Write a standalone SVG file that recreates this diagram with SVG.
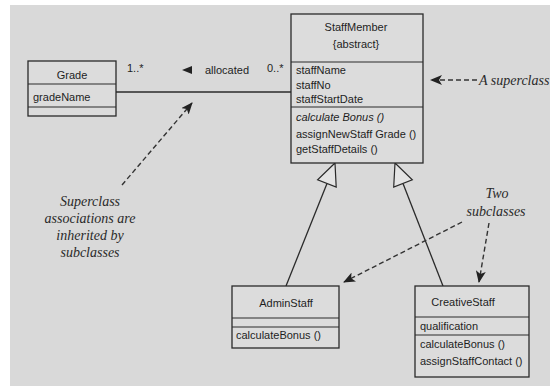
<svg xmlns="http://www.w3.org/2000/svg" width="550" height="386" viewBox="0 0 550 386">
<defs>
<style>
.box{fill:#dcdcdc;stroke:#2a2a2a;stroke-width:1.3}
.div{stroke:#2a2a2a;stroke-width:1.2}
.t{font-family:"Liberation Sans",Arial,sans-serif;font-size:11px;fill:#1e1e1e}
.c{text-anchor:middle}
.note{font-family:"Liberation Serif","Times New Roman",serif;font-style:italic;font-size:14px;fill:#2a2a2a;text-anchor:middle}
.ln{stroke:#2a2a2a;stroke-width:1.3;fill:none}
.dash{stroke:#333;stroke-width:1.4;fill:none;stroke-dasharray:5,3}
.tri{fill:#e4e4e4;stroke:#2a2a2a;stroke-width:1.2}
</style>
<marker id="ah" viewBox="0 0 12 10" refX="11" refY="5" markerWidth="12" markerHeight="10" markerUnits="userSpaceOnUse" orient="auto">
<path d="M0,0 L12,5 L0,10 L3,5 Z" fill="#222"/>
</marker>
</defs>
<rect x="0" y="0" width="550" height="386" fill="#ffffff"/>
<rect x="10" y="5" width="540" height="381" fill="#d9d9d9"/>

<g id="connectors">
<line class="ln" x1="116" y1="92" x2="291" y2="92"/>
<text class="t" x="127" y="72">1..*</text>
<path d="M182,70 L192,66 L192,74 Z" fill="#222"/>
<text class="t" x="205" y="74">allocated</text>
<text class="t" x="267" y="72">0..*</text>
<line class="ln" x1="286" y1="286" x2="327" y2="183.4"/>
<polygon class="tri" points="335,163 317.6,179.7 336.2,187.1"/>
<line class="ln" x1="443" y1="286" x2="403" y2="183.5"/>
<polygon class="tri" points="395,163 412.3,179.9 393.7,187.1"/>
<line class="dash" x1="477" y1="80" x2="431" y2="80" marker-end="url(#ah)"/>
<line class="dash" x1="122" y1="185" x2="192" y2="103" marker-end="url(#ah)"/>
<line class="dash" x1="462" y1="222" x2="344" y2="282" marker-end="url(#ah)"/>
<line class="dash" x1="489" y1="223" x2="479" y2="282" marker-end="url(#ah)"/>
</g>

<g id="Grade">
<rect class="box" x="28" y="61" width="88" height="55"/>
<line class="div" x1="28" y1="84" x2="116" y2="84"/>
<line class="div" x1="28" y1="107" x2="116" y2="107"/>
<text class="t c" x="72" y="79">Grade</text>
<text class="t" x="33" y="101">gradeName</text>
</g>

<g id="StaffMember">
<rect class="box" x="291" y="14" width="132" height="149"/>
<line class="div" x1="291" y1="62" x2="423" y2="62"/>
<line class="div" x1="291" y1="107" x2="423" y2="107"/>
<text class="t c" x="356" y="31">StaffMember</text>
<text class="t c" x="356" y="48">{abstract}</text>
<text class="t" x="296" y="74">staffName</text>
<text class="t" x="296" y="89">staffNo</text>
<text class="t" x="296" y="103">staffStartDate</text>
<text class="t" x="296" y="121" font-style="italic">calculate Bonus ()</text>
<text class="t" x="296" y="138">assignNewStaff Grade ()</text>
<text class="t" x="296" y="153">getStaffDetails ()</text>
</g>

<g id="AdminStaff">
<rect class="box" x="232" y="286" width="107" height="62"/>
<line class="div" x1="232" y1="318" x2="339" y2="318"/>
<line class="div" x1="232" y1="327" x2="339" y2="327"/>
<text class="t c" x="286" y="307">AdminStaff</text>
<text class="t" x="236" y="339">calculateBonus ()</text>
</g>

<g id="CreativeStaff">
<rect class="box" x="415" y="286" width="114" height="91"/>
<line class="div" x1="415" y1="317" x2="529" y2="317"/>
<line class="div" x1="415" y1="335" x2="529" y2="335"/>
<text class="t c" x="463" y="306">CreativeStaff</text>
<text class="t" x="420" y="330">qualification</text>
<text class="t" x="420" y="348">calculateBonus ()</text>
<text class="t" x="420" y="365">assignStaffContact ()</text>
</g>

<g id="notes">
<text class="note" x="479" y="85" text-anchor="start" style="text-anchor:start">A superclass</text>
<text class="note" x="497" y="198">Two</text>
<text class="note" x="496" y="216">subclasses</text>
<text class="note" x="90" y="206">Superclass</text>
<text class="note" x="90" y="223">associations are</text>
<text class="note" x="90" y="240">inherited by</text>
<text class="note" x="90" y="257">subclasses</text>
</g>
</svg>
